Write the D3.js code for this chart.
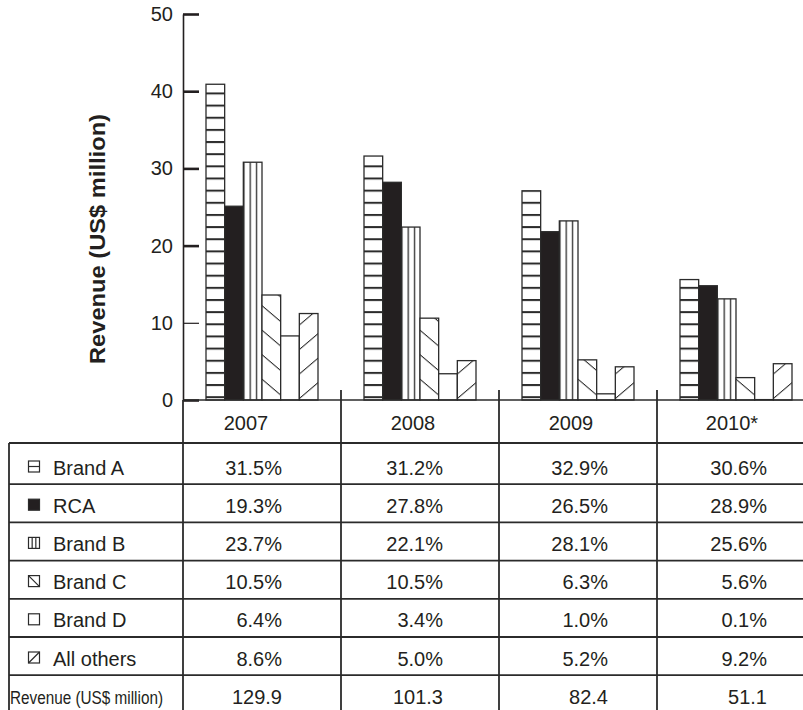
<!DOCTYPE html>
<html>
<head>
<meta charset="utf-8">
<script src="https://cdn.jsdelivr.net/npm/d3@7"></script>
<style>
  html, body { margin: 0; padding: 0; background: #fff; }
  svg { display: block; }
  text { font-family: "Liberation Sans", Arial, Helvetica, sans-serif; fill: #231f20; }
</style>
</head>
<body>
<svg id="chart" width="803" height="710"></svg>
<script>
// ---- Data ----
const years = ["2007", "2008", "2009", "2010*"];
const seriesNames = ["Brand A", "RCA", "Brand B", "Brand C", "Brand D", "All others"];

// Revenue by brand, US$ million (bar heights)
const brandA    = [40.9, 31.6, 27.1, 15.6];
const rca       = [25.1, 28.2, 21.8, 14.8];
const brandB    = [30.8, 22.4, 23.2, 13.1];
const brandC    = [13.6, 10.6, 5.2, 2.9];
const brandD    = [8.3, 3.4, 0.8, 0.05];
const allOthers = [11.2, 5.1, 4.3, 4.7];

// Market share, % (table rows)
const shareBrandA    = [31.5, 31.2, 32.9, 30.6];
const shareRca       = [19.3, 27.8, 26.5, 28.9];
const shareBrandB    = [23.7, 22.1, 28.1, 25.6];
const shareBrandC    = [10.5, 10.5, 6.3, 5.6];
const shareBrandD    = [6.4, 3.4, 1.0, 0.1];
const shareAllOthers = [8.6, 5.0, 5.2, 9.2];

// Total revenue, US$ million
const totalRevenue = [129.9, 101.3, 82.4, 51.1];

const yTicks = [0, 10, 20, 30, 40, 50];
const yAxisTitle = "Revenue (US$ million)";
const revenueRowLabel = "Revenue (US$ million)";

const barValues = [brandA, rca, brandB, brandC, brandD, allOthers];
const shareValues = [shareBrandA, shareRca, shareBrandB, shareBrandC, shareBrandD, shareAllOthers];

// ---- Layout ----
const W = 803, H = 710;
const axisX = 183, baseY = 400, topY = 14;
const ink = "#231f20", lineInk = "#2b2b2b";

const svg = d3.select("#chart");
const defs = svg.append("defs");

const x = d3.scaleBand().domain(years).range([axisX, axisX + 4 * 158]);
const xs = d3.scaleBand().domain(seriesNames).range([23, 135]);
const y = d3.scaleLinear().domain([0, 50]).range([baseY, topY]);

// table geometry
const tableLeft = 9, headBottom = 443;
const rowTop = i => i === 0 ? headBottom : 446 + 38.2 * i;
const rowBaseline = i => 474.5 + 38.2 * i;
const valueRight = [99, 102, 109, 110];   // right edge of numbers, from column start
const headCenter = [63, 72, 72, 75];      // year label centre, from column start

// ---- Fill patterns ----
const slope = 0.85, diagGap = 24.5;
const skewDeg = Math.atan(slope) * 180 / Math.PI;

const bars = [];
seriesNames.forEach((s, j) => {
  years.forEach((yr, i) => {
    const v = barValues[j][i];
    const x0 = x(yr) + xs(s);
    bars.push({ s, j, i, v, x0, w: xs.bandwidth(), id: `pat-${j}-${i}` });
  });
});

// horizontal stripes (Brand A)
const pA = defs.append("pattern").attr("id", "pat-stripes-h")
  .attr("patternUnits", "userSpaceOnUse")
  .attr("x", 0).attr("y", 396.2).attr("width", W).attr("height", 12.15);
pA.append("rect").attr("width", W).attr("height", 12.15).attr("fill", "#fff");
pA.append("rect").attr("width", W).attr("height", 2).attr("fill", lineInk);

bars.forEach(b => {
  if (b.j === 2) {
    // vertical rules splitting the bar in thirds (Brand B)
    const p = defs.append("pattern").attr("id", b.id)
      .attr("patternUnits", "userSpaceOnUse")
      .attr("x", b.x0).attr("y", 0).attr("width", b.w / 3).attr("height", 20);
    p.append("rect").attr("width", b.w / 3).attr("height", 20).attr("fill", "#fff");
    p.append("rect").attr("width", 1.3).attr("height", 20).attr("fill", lineInk);
  } else if (b.j === 3 || b.j === 5) {
    // sparse diagonal hatching: "\" for Brand C, "/" for All others
    const t = b.j === 3 ? slope : -slope;
    const anchorY = b.j === 3 ? 395 - t * (b.x0 + b.w) : 398.5 - t * b.x0;
    const p = defs.append("pattern").attr("id", b.id)
      .attr("patternUnits", "userSpaceOnUse")
      .attr("patternTransform", `skewY(${b.j === 3 ? skewDeg : -skewDeg})`)
      .attr("x", 0).attr("y", anchorY - 0.65).attr("width", W).attr("height", diagGap);
    p.append("rect").attr("width", W).attr("height", diagGap).attr("fill", "#fff");
    p.append("rect").attr("width", W).attr("height", 1.3).attr("fill", lineInk);
  }
});

function barFill(b) {
  if (b.j === 0) return "url(#pat-stripes-h)";
  if (b.j === 1) return ink;
  if (b.j === 4) return "#fff";
  return `url(#${b.id})`;
}

// ---- Bars ----
svg.append("g").attr("class", "bars")
  .selectAll("rect").data(bars).join("rect")
  .attr("x", d => d.x0)
  .attr("y", d => y(d.v))
  .attr("width", d => d.w)
  .attr("height", d => baseY - y(d.v))
  .attr("fill", barFill)
  .attr("stroke", lineInk)
  .attr("stroke-width", 1.3);

// ---- Y axis ----
const yAxis = d3.axisLeft(y).tickValues(yTicks).tickSizeInner(-16).tickSizeOuter(0).tickPadding(10);
const gy = svg.append("g").attr("transform", `translate(${axisX},0)`).call(yAxis);
gy.select(".domain").attr("stroke", ink).attr("stroke-width", 1.6);
gy.selectAll(".tick line").attr("stroke", ink).attr("stroke-width", d => d === 10 ? 1.2 : 2.6);
gy.selectAll(".tick text")
  .style("font-family", '"Liberation Sans", Arial, sans-serif')
  .style("font-size", "20px").attr("fill", ink);

svg.append("text")
  .attr("transform", `translate(97,239) rotate(-90)`)
  .attr("text-anchor", "middle").attr("dy", "0.35em")
  .attr("textLength", 250).attr("lengthAdjust", "spacingAndGlyphs")
  .style("font-size", "22.5px").style("font-weight", "bold")
  .text(yAxisTitle);

// ---- Table ----
const grid = svg.append("g").attr("stroke", lineInk).attr("stroke-width", 1.8);

// baseline / header top
grid.append("line").attr("x1", axisX).attr("x2", W).attr("y1", baseY).attr("y2", baseY).attr("stroke-width", 1.6);
// row separators
d3.range(7).forEach(i => {
  grid.append("line").attr("x1", tableLeft).attr("x2", W)
    .attr("y1", rowTop(i)).attr("y2", rowTop(i));
});
// left border
grid.append("line").attr("x1", tableLeft).attr("x2", tableLeft).attr("y1", headBottom).attr("y2", H);
// column dividers
grid.append("line").attr("x1", axisX).attr("x2", axisX).attr("y1", baseY).attr("y2", H);
years.slice(1).forEach(yr => {
  grid.append("line").attr("x1", x(yr)).attr("x2", x(yr)).attr("y1", baseY - 10).attr("y2", H);
});

// year headers
svg.append("g").selectAll("text").data(years).join("text")
  .attr("x", (d, i) => x(d) + headCenter[i])
  .attr("y", 429.5)
  .attr("text-anchor", "middle")
  .style("font-size", "20px")
  .text(d => d);

// row labels and legend keys
const labels = svg.append("g");
seriesNames.forEach((s, j) => {
  const by = rowBaseline(j);
  labels.append("text").attr("x", 53).attr("y", by).style("font-size", "20px").text(s);

  const k = labels.append("g").attr("transform", `translate(28.5,${by - 13.5})`);
  const sz = 11;
  k.append("rect").attr("width", sz).attr("height", sz)
    .attr("fill", j === 1 ? ink : "#fff").attr("stroke", lineInk).attr("stroke-width", 1.2);
  const kl = (x1, y1, x2, y2) => k.append("line")
    .attr("x1", x1).attr("y1", y1).attr("x2", x2).attr("y2", y2)
    .attr("stroke", lineInk).attr("stroke-width", 1.2);
  if (j === 0) kl(0, sz / 2, sz, sz / 2);
  if (j === 2) { kl(sz / 3, 0, sz / 3, sz); kl(2 * sz / 3, 0, 2 * sz / 3, sz); }
  if (j === 3) kl(0, 0, sz, sz);
  if (j === 5) kl(0, sz, sz, 0);
});

labels.append("text")
  .attr("x", 10).attr("y", rowBaseline(6))
  .attr("textLength", 153).attr("lengthAdjust", "spacingAndGlyphs")
  .style("font-family", '"Liberation Sans Narrow", "Arial Narrow", "Liberation Sans", Arial, sans-serif')
  .style("font-size", "17.5px")
  .text(revenueRowLabel);

// share values
const fmtPct = d => d3.format(".1f")(d) + "%";
const cells = svg.append("g");
shareValues.forEach((row, j) => {
  row.forEach((v, i) => {
    cells.append("text")
      .attr("x", x(years[i]) + valueRight[i])
      .attr("y", rowBaseline(j))
      .attr("text-anchor", "end")
      .style("font-size", "20px")
      .text(fmtPct(v));
  });
});
// total revenue
totalRevenue.forEach((v, i) => {
  cells.append("text")
    .attr("x", x(years[i]) + valueRight[i])
    .attr("y", rowBaseline(6))
    .attr("text-anchor", "end")
    .style("font-size", "20px")
    .text(d3.format(".1f")(v));
});
</script>
</body>
</html>
